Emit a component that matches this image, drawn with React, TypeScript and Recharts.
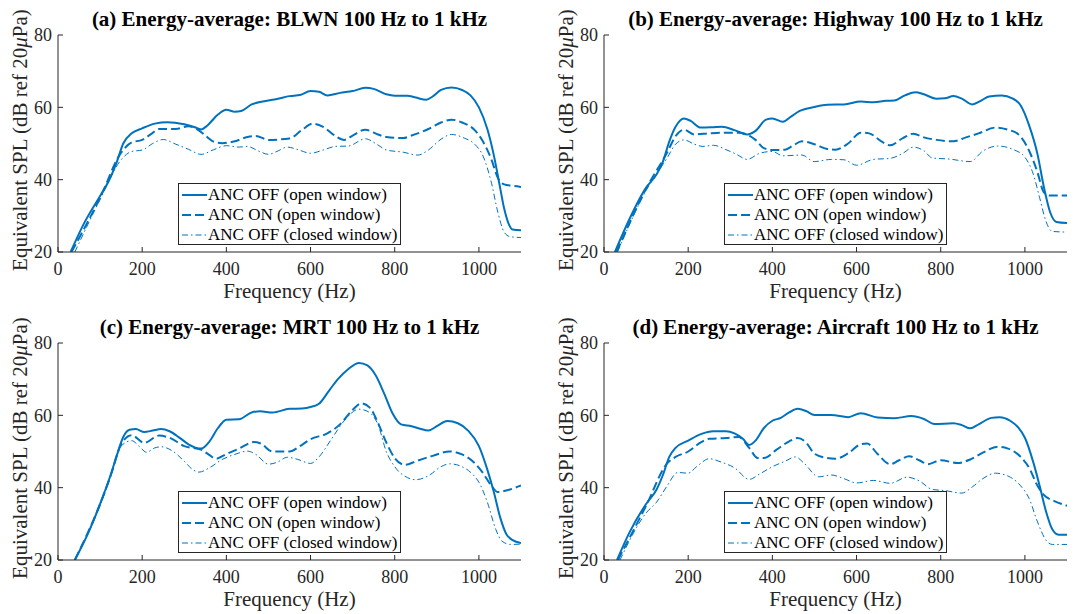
import React from "react";
import { LineChart, Line, XAxis, YAxis, Legend } from "recharts";

const xTicks = [0, 200, 400, 600, 800, 1000];
const yTicks = [20, 40, 60, 80];
const seriesNames = ["ANC OFF (open window)", "ANC ON (open window)", "ANC OFF (closed window)"];
const panelTitles = [
  "(a) Energy-average: BLWN 100 Hz to 1 kHz",
  "(b) Energy-average: Highway 100 Hz to 1 kHz",
  "(c) Energy-average: MRT 100 Hz to 1 kHz",
  "(d) Energy-average: Aircraft 100 Hz to 1 kHz",
];

// [frequency Hz, level dB]
const blwnOffOpen = [[30,20],[60,27.5],[100,35.5],[120,39.5],[140,45],[155,50],[175,52.8],[200,54.2],[230,55.5],[260,55.9],[300,55.3],[325,54.5],[340,53.9],[355,55],[380,58],[400,59.3],[420,58.8],[435,59],[460,60.8],[490,61.7],[520,62.3],[550,63.1],[575,63.4],[600,64.5],[620,64.3],[640,63.3],[670,64],[700,64.5],[730,65.4],[750,65.1],[780,63.6],[800,63.2],[830,63.2],[850,62.7],[875,62.1],[890,63],[910,64.8],[935,65.5],[960,64.8],[980,63.3],[1000,60],[1020,54],[1035,47],[1050,38],[1060,32],[1070,28],[1080,26.2],[1100,26]];
const blwnOnOpen = [[32,20],[100,35],[150,47.5],[175,50.3],[200,51],[220,52.5],[240,54],[280,54],[310,54.8],[330,54],[350,52.2],[370,50.5],[390,50.1],[420,50.6],[450,51.8],[470,52.1],[500,51],[550,51.4],[580,53.8],[605,55.5],[630,54.6],[660,52],[680,51],[700,52.2],[730,53.8],[760,52.5],[780,51.8],[820,51.5],[840,52.2],[880,54],[910,55.8],[935,56.6],[960,55.8],[990,53.7],[1010,50.5],[1030,45.5],[1045,40.5],[1060,38.7],[1080,38.3],[1100,38]];
const blwnOffClosed = [[40,20],[100,34.5],[150,45.5],[175,47.8],[200,48.2],[225,50],[250,51.1],[280,49.8],[310,48.4],[340,47],[370,48.3],[400,49.4],[430,49],[450,49.2],[475,48],[500,47],[520,47.8],[545,49],[570,48.3],[600,47.3],[630,48.2],[660,49.2],[690,49.3],[730,51.3],[760,49.6],[780,48.2],[820,47.6],[855,46.8],[880,48.2],[910,51.2],[935,52.5],[965,51.5],[990,49.8],[1010,46.5],[1030,39],[1045,31],[1060,25.5],[1075,24.2],[1100,24]];

const highwayOffOpen = [[26,20],[60,29],[100,37.8],[125,41.5],[140,45],[155,50.5],[170,54.6],[190,56.9],[205,56.3],[230,54.4],[260,54.5],[280,54.6],[310,53.7],[340,52.5],[360,53.5],[385,56.6],[400,56.9],[425,56],[445,57.5],[465,59],[500,60.1],[530,60.7],[570,60.8],[610,61.6],[640,61.4],[670,61.8],[690,61.9],[715,63.3],[740,64.2],[760,63.6],[790,62.4],[810,62.5],[830,63.1],[850,62.4],[875,60.8],[895,61.8],[915,63],[945,63.3],[970,62.5],[990,60.5],[1010,55],[1030,47],[1045,38],[1060,31],[1075,28.3],[1100,28]];
const highwayOnOpen = [[30,20],[100,37.5],[150,47.5],[170,52],[190,53.8],[215,52.5],[250,52.8],[290,53],[320,53],[340,52.5],[360,51],[380,48.7],[400,48.2],[430,48.3],[450,49.5],[470,50.6],[500,49.8],[530,48.5],[550,48.3],[580,50],[610,53],[630,52.8],[660,50.5],[680,49.5],[710,51.5],[735,52.7],[760,51.7],[790,51],[830,50.6],[860,51.7],[890,52.8],[930,54.4],[960,53.8],[985,52.5],[1010,48],[1030,42],[1045,36.5],[1060,35.6],[1100,35.6]];
const highwayOffClosed = [[32,20],[100,37],[150,46],[170,49.8],[190,51],[215,49.8],[235,49.2],[260,49.5],[290,48.3],[315,47],[340,45.6],[370,47.3],[400,47.8],[425,46.6],[470,46.8],[500,45],[540,45.6],[570,45.5],[600,44],[640,45.6],[680,45.9],[710,47.3],[735,49],[760,48],[780,46],[820,45.7],[870,45],[900,47.9],[935,49.3],[975,48.2],[1000,46.2],[1020,41.5],[1035,35],[1050,28.5],[1065,25.7],[1100,25.5]];

const mrtOffOpen = [[40,20],[70,27],[100,35.5],[125,43.5],[140,49],[155,54],[170,56],[185,56.2],[205,55.4],[225,55.8],[245,56.2],[265,55.6],[290,53.7],[310,52],[340,50.8],[360,52.8],[380,56.5],[400,58.8],[430,58.9],[460,60.8],[480,61.1],[510,60.8],[550,61.8],[580,61.9],[600,62.3],[620,63.2],[645,67],[665,70],[690,72.8],[715,74.5],[735,73.8],[755,71],[775,66],[795,60.5],[815,57.5],[840,57],[860,56.3],[880,55.8],[900,57],[925,58.4],[950,57.8],[975,55.7],[1000,51.5],[1020,45],[1035,39],[1050,32],[1065,27.2],[1080,25.5],[1100,24.7]];
const mrtOnOpen = [[40,20],[100,35.5],[125,43.3],[150,52],[175,54.5],[205,52.4],[240,54.4],[265,53.8],[300,51.5],[340,50.5],[360,49],[375,48],[400,49.3],[430,50.8],[465,52.6],[480,52.3],[510,50],[550,50],[575,51.5],[600,53.4],[640,55],[670,57.5],[700,61.5],[720,63.3],[740,62.2],[760,58],[780,52.5],[800,48.2],[825,46.3],[850,47.3],[890,48.8],[930,50],[960,49.2],[990,46.8],[1010,44],[1030,40.5],[1045,38.8],[1065,39.2],[1100,40.6]];
const mrtOffClosed = [[40,20],[100,35],[125,43],[150,51.5],[175,53],[195,51.2],[210,49.8],[230,51],[245,51.3],[270,50.3],[300,47.3],[320,45],[335,44.3],[360,45.5],[390,47.8],[420,49.2],[450,50.1],[470,49.2],[500,46.5],[520,47],[545,48.4],[570,47.8],[600,46.7],[620,48.5],[650,53.5],[680,58.5],[715,61.7],[740,60.8],[760,57.5],[780,50],[800,45.8],[830,42.8],[850,42.2],[880,43.3],[910,45.8],[930,46.6],[960,45.8],[985,43.7],[1000,41.5],[1020,36],[1040,28.5],[1055,25.2],[1075,24.3],[1100,24.4]];

const aircraftOffOpen = [[31,20],[60,27.5],[100,35.5],[125,39.5],[140,43.5],[155,48.5],[170,51],[200,53],[230,54.8],[260,55.6],[290,55.6],[310,55],[330,53.5],[345,51.8],[360,53],[380,56.5],[400,58.5],[420,59.3],[440,60.8],[460,61.8],[480,61.2],[500,60.1],[540,60.1],[580,59.5],[610,60.6],[650,59.4],[690,59.2],[730,59.8],[760,59],[785,57.6],[830,57.8],[850,57.3],[870,56.4],[890,57.5],[920,59.3],[940,59.5],[965,58.5],[985,56.5],[1000,53.8],[1020,47],[1035,40.5],[1050,33.5],[1065,28.5],[1080,27],[1100,27]];
const aircraftOnOpen = [[33,20],[100,35],[150,46.7],[170,48.5],[200,50],[230,52.5],[250,53.5],[290,53.7],[320,54],[345,51],[365,48.2],[380,48.2],[410,50.5],[440,52.8],[460,53.7],[480,52.5],[500,49.4],[530,48.2],[550,48],[580,49.5],[610,52],[625,52.2],[650,49.3],[680,46.5],[700,47.5],[725,48.7],[750,47.5],[770,46.5],[800,47.6],[840,46.8],[870,47.8],[900,49.7],[935,51.3],[960,50.8],[990,48.5],[1010,45.5],[1030,40.5],[1045,38],[1070,36.3],[1100,35]];
const aircraftOffClosed = [[38,20],[100,33],[125,36],[150,40.5],[175,44.2],[200,44],[220,45.8],[250,48],[280,47],[310,45.5],[345,42.3],[370,43.8],[400,45.8],[430,47.3],[455,48.5],[475,46.8],[510,43],[540,43.5],[570,42.5],[600,41.3],[640,42],[680,41.2],[720,42.9],[750,41.8],[780,39.5],[810,39.2],[850,38.5],[875,40.2],[900,42.5],[930,44],[960,43.2],[990,40.5],[1010,37],[1030,30.5],[1050,25.5],[1065,24.3],[1100,24.3]];

const BLUE = "#0072BD";
const AXIS = "#262626";
const FONT = '"Liberation Serif", "Times New Roman", serif';

const lineStyles = [
  { width: 2, dash: undefined },
  { width: 2, dash: "9 4" },
  { width: 1, dash: "6 3 1.5 3" },
];

const W = 540;
const H = 310;
const plotL = 58;
const plotR = 521;
const plotT = 35;
const plotB = 252;

const toRows = (pts: number[][]) => pts.map(([f, db]) => ({ f, db }));

function LegendBox() {
  return (
    <div
      style={{
        width: 221,
        height: 59,
        border: `1px solid ${AXIS}`,
        background: "#fff",
        fontFamily: FONT,
        fontSize: 17,
        color: "#000",
        paddingTop: 1,
      }}
    >
      {seriesNames.map((name, i) => (
        <div key={name} style={{ display: "flex", alignItems: "center", height: 20, lineHeight: "20px" }}>
          <svg width={29} height={20} style={{ flex: "none" }}>
            <line
              x1={3}
              x2={28}
              y1={10}
              y2={10}
              stroke={BLUE}
              strokeWidth={lineStyles[i].width}
              strokeDasharray={lineStyles[i].dash}
            />
          </svg>
          <span style={{ whiteSpace: "nowrap" }}>{name}</span>
        </div>
      ))}
    </div>
  );
}

function Panel({ title, series, left, top }: { title: string; series: number[][][]; left: number; top: number }) {
  const cx = (plotL + plotR) / 2;
  return (
    <div style={{ position: "absolute", left, top, width: W, height: H }}>
      <LineChart width={W} height={H} margin={{ top: plotT, right: W - plotR, bottom: 0, left: 0 }}>
        <XAxis
          xAxisId="b"
          dataKey="f"
          type="number"
          domain={[0, 1100]}
          ticks={xTicks}
          height={H - plotB}
          tickSize={-5}
          tickMargin={15}
          stroke={AXIS}
          tick={{ fill: AXIS, fontSize: 18, fontFamily: FONT }}
          allowDataOverflow
        />
        <XAxis
          xAxisId="t"
          orientation="top"
          type="number"
          domain={[0, 1100]}
          ticks={xTicks}
          height={0}
          tickSize={-5}
          tick={false}
          stroke={AXIS}
          allowDataOverflow
        />
        <YAxis
          yAxisId="l"
          type="number"
          domain={[20, 80]}
          ticks={yTicks}
          width={plotL}
          tickSize={-5}
          tickMargin={11}
          stroke={AXIS}
          tick={{ fill: AXIS, fontSize: 18, fontFamily: FONT }}
          allowDataOverflow
        />
        <YAxis
          yAxisId="r"
          orientation="right"
          type="number"
          domain={[20, 80]}
          ticks={yTicks}
          width={0}
          tickSize={-5}
          tick={false}
          stroke={AXIS}
          allowDataOverflow
        />
        {series.map((pts, i) => (
          <Line
            key={seriesNames[i]}
            name={seriesNames[i]}
            xAxisId="b"
            yAxisId="l"
            data={toRows(pts)}
            dataKey="db"
            type="monotone"
            stroke={BLUE}
            strokeWidth={lineStyles[i].width}
            strokeDasharray={lineStyles[i].dash}
            dot={false}
            activeDot={false}
            isAnimationActive={false}
          />
        ))}
        <Legend
          layout="vertical"
          align="center"
          verticalAlign="middle"
          wrapperStyle={{ left: cx - 111.5, top: plotB - 8 - 61, width: 223, height: 61 }}
          content={() => <LegendBox />}
        />
      </LineChart>
      <div
        style={{
          position: "absolute",
          left: plotL - 40,
          width: plotR - plotL + 80,
          top: 9,
          textAlign: "center",
          fontFamily: FONT,
          fontWeight: "bold",
          fontSize: 21,
          lineHeight: "21px",
          color: "#000",
          whiteSpace: "nowrap",
        }}
      >
        {title}
      </div>
      <div
        style={{
          position: "absolute",
          left: plotL,
          width: plotR - plotL,
          top: 281,
          textAlign: "center",
          fontFamily: FONT,
          fontSize: 21,
          lineHeight: "21px",
          color: AXIS,
        }}
      >
        Frequency (Hz)
      </div>
      <div
        style={{
          position: "absolute",
          left: 20 - 150,
          top: 139.5 - 12,
          width: 300,
          height: 24,
          lineHeight: "24px",
          textAlign: "center",
          fontFamily: FONT,
          fontSize: 21,
          color: AXIS,
          whiteSpace: "nowrap",
          transform: "rotate(-90deg)",
        }}
      >
        Equivalent SPL (dB ref 20<i>μ</i>Pa)
      </div>
    </div>
  );
}

export default function App() {
  return (
    <div
      style={{
        position: "absolute",
        left: 0,
        top: 0,
        width: 1077,
        height: 614,
        overflow: "hidden",
        background: "#fff",
      }}
    >
      <Panel title={panelTitles[0]} series={[blwnOffOpen, blwnOnOpen, blwnOffClosed]} left={0} top={0} />
      <Panel title={panelTitles[1]} series={[highwayOffOpen, highwayOnOpen, highwayOffClosed]} left={546} top={0} />
      <Panel title={panelTitles[2]} series={[mrtOffOpen, mrtOnOpen, mrtOffClosed]} left={0} top={308} />
      <Panel title={panelTitles[3]} series={[aircraftOffOpen, aircraftOnOpen, aircraftOffClosed]} left={546} top={308} />
    </div>
  );
}
